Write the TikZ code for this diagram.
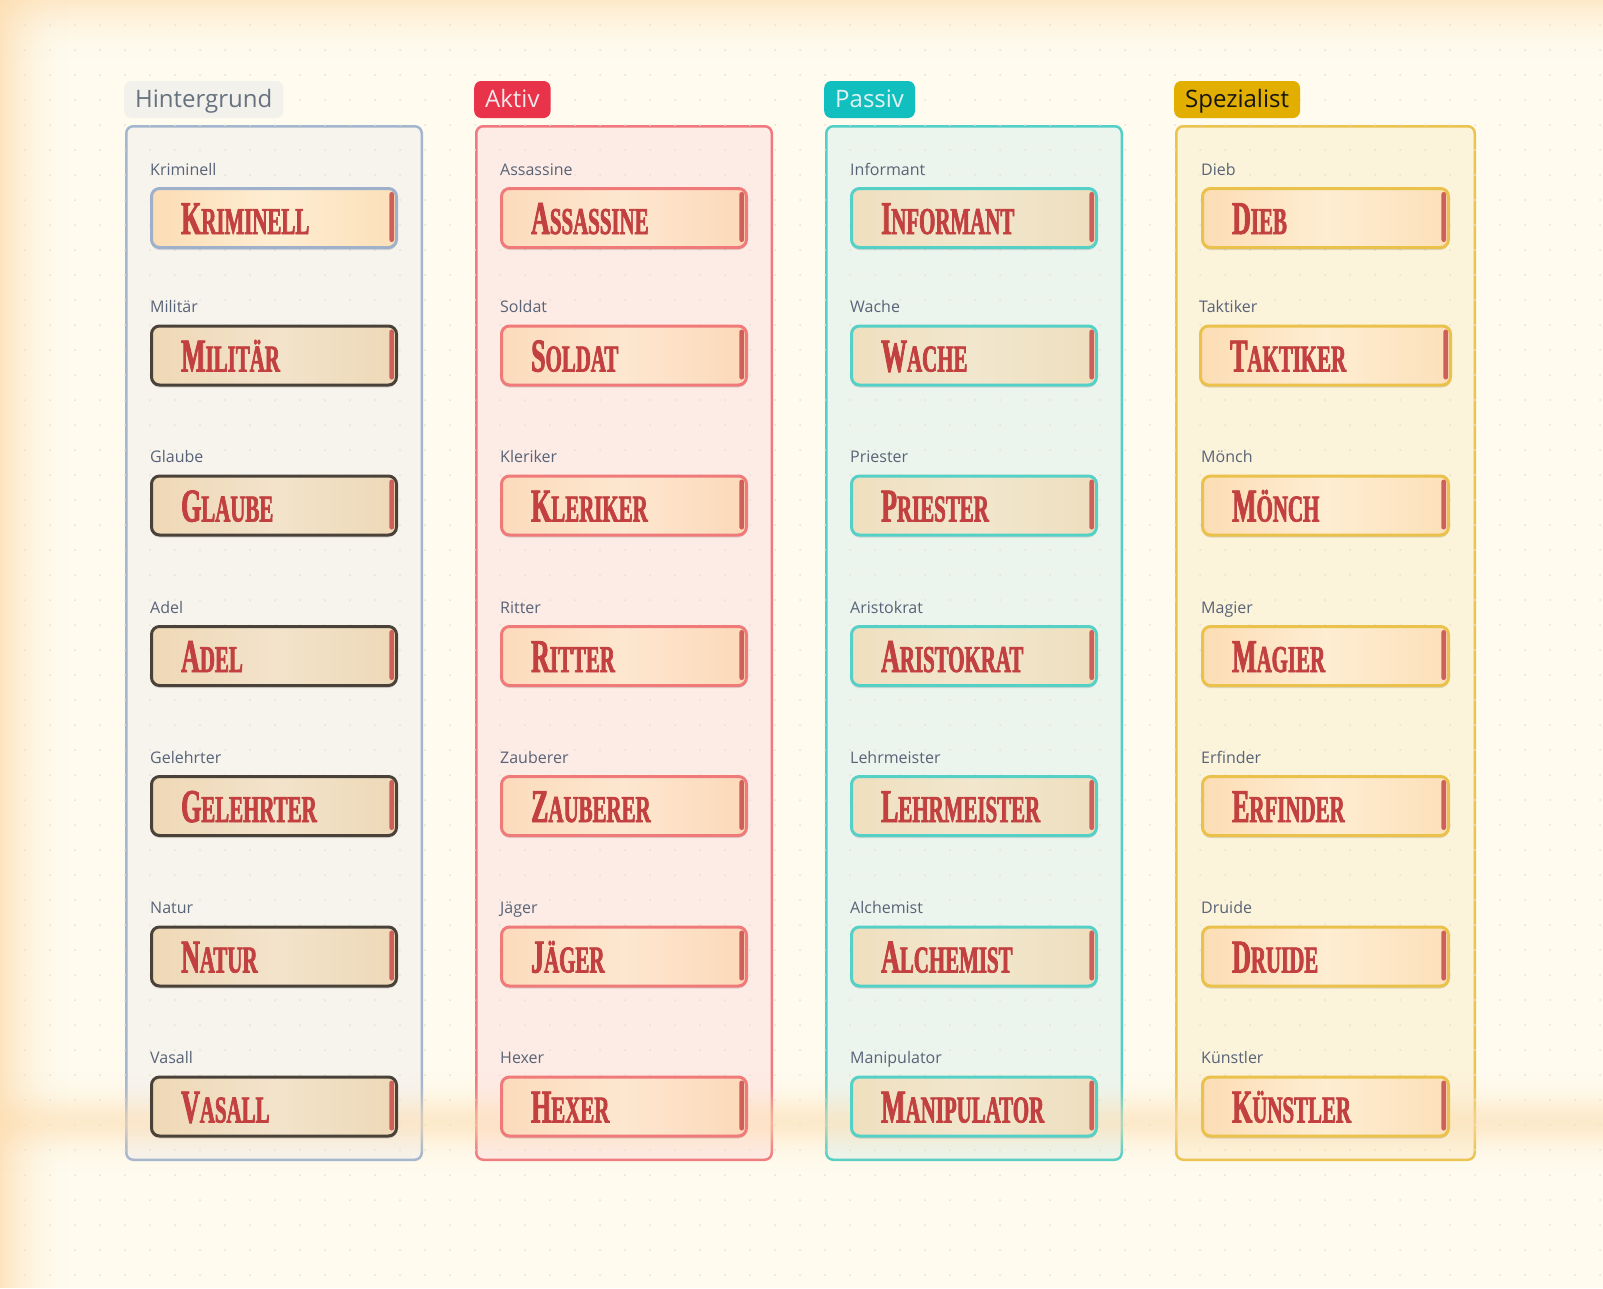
\documentclass[tikz,border=0pt]{standalone}
\usepackage{fontspec}
\usepackage{graphicx}
\setmainfont{Open Sans}
\newfontfamily\titlefont{Liberation Serif Bold}[FakeStretch=0.55,FakeBold=1.8]
\usetikzlibrary{shadows}

\definecolor{bgcream}{HTML}{FFFBEE}
\definecolor{glow}{HTML}{FDDDB0}
\definecolor{dotc}{HTML}{E8E1CF}
\definecolor{titlered}{HTML}{C2403F}
\definecolor{barred}{HTML}{CF5F5A}
\definecolor{labelc}{HTML}{586377}
% column 1
\definecolor{frA}{HTML}{A4B5CF}\definecolor{fiA}{HTML}{F7F4EE}
\definecolor{tgA}{HTML}{F3F1EC}\definecolor{ttA}{HTML}{66727F}
\definecolor{bdA}{HTML}{4A4239}\definecolor{bdAa}{HTML}{9FB0CB}
% column 2
\definecolor{frB}{HTML}{F0787E}\definecolor{fiB}{HTML}{FDEBE5}
\definecolor{tgB}{HTML}{E8334A}\definecolor{ttB}{HTML}{F2E8EA}
\definecolor{bdB}{HTML}{F07A7A}
% column 3
\definecolor{frC}{HTML}{52CFC6}\definecolor{fiC}{HTML}{ECF5ED}
\definecolor{tgC}{HTML}{12BFBF}\definecolor{ttC}{HTML}{E2F2F2}
\definecolor{bdC}{HTML}{55D0C7}
% column 4
\definecolor{frD}{HTML}{EBC34F}\definecolor{fiD}{HTML}{FCF3DB}
\definecolor{tgD}{HTML}{E2AE00}\definecolor{ttD}{HTML}{151515}
\definecolor{bdD}{HTML}{EAC14A}
% box fills
\definecolor{pkL}{HTML}{FCDDB5}\definecolor{pkM}{HTML}{FEEDD2}\definecolor{pkR}{HTML}{FCE0B9}
\definecolor{rdL}{HTML}{FCDBBB}\definecolor{rdM}{HTML}{FDE7D0}\definecolor{rdR}{HTML}{FCD9B8}
\definecolor{tnL}{HTML}{EFD8B5}\definecolor{tnM}{HTML}{F2E3CB}\definecolor{tnR}{HTML}{EED9B7}
\definecolor{tqL}{HTML}{EFDFBE}\definecolor{tqM}{HTML}{F1E7CE}\definecolor{tqR}{HTML}{EEDEBD}

\newcommand\sctitle[2]{{\titlefont\fontsize{47}{47}\selectfont #1\fontsize{38}{38}\selectfont #2}}

\tikzset{
  frame/.style={line width=2.5pt, rounded corners=7pt},
  tag/.style={anchor=base west, rounded corners=7pt, inner xsep=11pt, inner ysep=9pt,
    text height=17.3pt, text depth=1.7pt, font=\fontsize{24}{24}\selectfont},
  rolebox/.style={line width=3pt, rounded corners=8pt, minimum height=59pt, minimum width=245pt,
    inner sep=0pt, outer sep=0pt,
    drop shadow={shadow xshift=0pt, shadow yshift=-2.5pt, opacity=0.12, fill=black}},
  peach/.style={left color=pkL, right color=pkR, middle color=pkM},
  rosy/.style={left color=rdL, right color=rdR, middle color=rdM},
  tan/.style={left color=tnL, right color=tnR, middle color=tnM},
  teal/.style={left color=tqL, right color=tqR, middle color=tqM},
  boxA/.style={draw=bdA, tan},
  boxAa/.style={draw=bdAa, peach},
  boxB/.style={draw=bdB, rosy},
  boxC/.style={draw=bdC, teal},
  boxD/.style={draw=bdD, peach, minimum width=246pt},
  lbl/.style={anchor=base west, inner sep=0pt, text=labelc, font=\fontsize{16}{16}\selectfont},
  ttl/.style={anchor=base west, inner sep=0pt, text=titlered},
}

\newcommand\rolerow[7]{%
  \node[rolebox,#4,anchor=north west] (#1) at ({#2+1.5},{-(#3+1.5)}) {};
  \node[lbl] (#1l) at (#2,{-(#3-12)}) {#5};
  \node[ttl] (#1t) at ({#2+31},{-(#3+47)}) {\sctitle{#6}{#7}};
  \fill[barred, rounded corners=2.2pt] ([xshift=-7.1pt,yshift=-3.5pt]#1.north east) rectangle ([xshift=-2.5pt,yshift=5.5pt]#1.south east);
}

\begin{document}
\begin{tikzpicture}[x=1pt,y=1pt]
\useasboundingbox (0,0) rectangle (1603,-1288);
% background
\fill[bgcream] (0,0) rectangle (1603,-1288);
% left glow
\foreach \i in {0,...,34}{
  \pgfmathsetmacro\op{0.75*(1-\i/35)^2}
  \fill[glow, opacity=\op] ({2*\i},0) rectangle ({2*\i+2},-1288);
}
% top glow
\foreach \i in {0,...,29}{
  \pgfmathsetmacro\op{0.6*(1-\i/30)^2}
  \fill[glow, opacity=\op] (0,{-2*\i}) rectangle (1603,{-2*\i-2});
}

% column frames
\draw[frame, draw=frA, fill=fiA] (126.25,-126.25) rectangle (421.75,-1159.75);
\draw[frame, draw=frB, fill=fiB] (476.25,-126.25) rectangle (771.75,-1159.75);
\draw[frame, draw=frC, fill=fiC] (826.25,-126.25) rectangle (1121.75,-1159.75);
\draw[frame, draw=frD, fill=fiD] (1176.25,-126.25) rectangle (1474.75,-1159.75);

% dotted grid
\foreach \x in {25,50,...,1600}{
  \foreach \y in {25,50,...,1275}{
    \fill[dotc] (\x,-\y) circle (1pt);
  }
}

% warm band
\foreach \i in {-25,...,24}{
  \pgfmathsetmacro\op{0.55*exp(-((\i+0.5)/12)^2)}
  \fill[glow, opacity=\op] (0,{-1122-2*\i}) rectangle (1603,{-1124-2*\i});
}

% tags
\node[tag, fill=tgA, text=ttA] (tagA) at (124,-107.3) {Hintergrund};
\node[tag, fill=tgB, text=ttB] (tagB) at (474,-107.3) {Aktiv};
\node[tag, fill=tgC, text=ttC] (tagC) at (824,-107.3) {Passiv};
\node[tag, fill=tgD, text=ttD] (tagD) at (1174,-107.3) {Spezialist};

% column 1
\rolerow{a1}{150}{187}{boxAa}{Kriminell}{K}{RIMINELL}
\rolerow{a2}{150}{324.5}{boxA}{Militär}{M}{ILITÄR}
\rolerow{a3}{150}{474.5}{boxA}{Glaube}{G}{LAUBE}
\rolerow{a4}{150}{625}{boxA}{Adel}{A}{DEL}
\rolerow{a5}{150}{775}{boxA}{Gelehrter}{G}{ELEHRTER}
\rolerow{a6}{150}{925.5}{boxA}{Natur}{N}{ATUR}
\rolerow{a7}{150}{1075.5}{boxA}{Vasall}{V}{ASALL}
% column 2
\rolerow{b1}{500}{187}{boxB}{Assassine}{A}{SSASSINE}
\rolerow{b2}{500}{324.5}{boxB}{Soldat}{S}{OLDAT}
\rolerow{b3}{500}{474.5}{boxB}{Kleriker}{K}{LERIKER}
\rolerow{b4}{500}{625}{boxB}{Ritter}{R}{ITTER}
\rolerow{b5}{500}{775}{boxB}{Zauberer}{Z}{AUBERER}
\rolerow{b6}{500}{925.5}{boxB}{Jäger}{J}{ÄGER}
\rolerow{b7}{500}{1075.5}{boxB}{Hexer}{H}{EXER}
% column 3
\rolerow{c1}{850}{187}{boxC}{Informant}{I}{NFORMANT}
\rolerow{c2}{850}{324.5}{boxC}{Wache}{W}{ACHE}
\rolerow{c3}{850}{474.5}{boxC}{Priester}{P}{RIESTER}
\rolerow{c4}{850}{625}{boxC}{Aristokrat}{A}{RISTOKRAT}
\rolerow{c5}{850}{775}{boxC}{Lehrmeister}{L}{EHRMEISTER}
\rolerow{c6}{850}{925.5}{boxC}{Alchemist}{A}{LCHEMIST}
\rolerow{c7}{850}{1075.5}{boxC}{Manipulator}{M}{ANIPULATOR}
% column 4
\rolerow{d1}{1201}{187}{boxD}{Dieb}{D}{IEB}
\rolerow{d2}{1199}{324.5}{boxD,minimum width=250pt}{Taktiker}{T}{AKTIKER}
\rolerow{d3}{1201}{474.5}{boxD}{Mönch}{M}{ÖNCH}
\rolerow{d4}{1201}{625}{boxD}{Magier}{M}{AGIER}
\rolerow{d5}{1201}{775}{boxD}{Erfinder}{E}{RFINDER}
\rolerow{d6}{1201}{925.5}{boxD}{Druide}{D}{RUIDE}
\rolerow{d7}{1201}{1075.5}{boxD}{Künstler}{K}{ÜNSTLER}
\end{tikzpicture}
\end{document}
